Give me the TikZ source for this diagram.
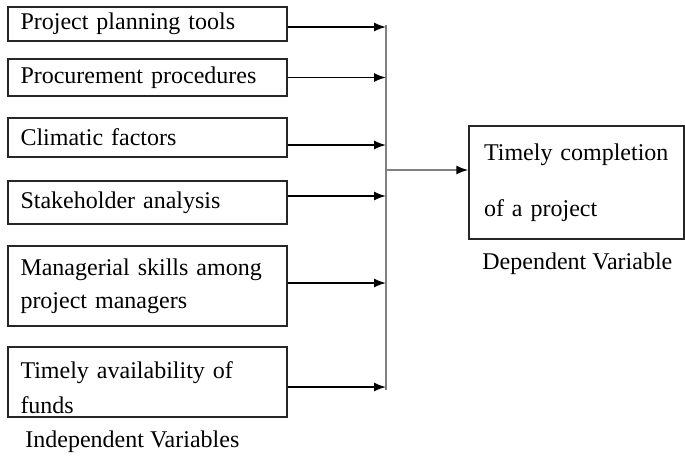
\documentclass[tikz,border=0pt]{standalone}
\usepackage{fontspec}
\setmainfont{Liberation Serif}
\usetikzlibrary{arrows.meta}

\begin{document}
\begin{tikzpicture}[x=0.5pt,y=-0.5pt,
		box/.style={draw=black!85, line width=0.75pt, text width=127pt, inner xsep=6.25pt, inner ysep=2pt, align=left, font=\fontsize{12}{14.5}\selectfont},
		lab/.style={anchor=west, inner sep=0pt, font=\fontsize{12}{14.5}\selectfont},
		arr/.style={line width=0.75pt, -{Latex[length=6pt,width=4.5pt,color=black]}},
		bar/.style={draw=black!50, line width=1pt}]
	\useasboundingbox (0,0) rectangle (685,457);
	\node[box, minimum height=17pt] (tools) at (147.5,24) {Project planning tools};
	\node[box, minimum height=18.5pt] (proc) at (147.5,77.5) {Procurement procedures};
	\node[box, minimum height=19.5pt] (clim) at (147.5,137.5) {Climatic factors};
	\node[box, minimum height=21.5pt] (stake) at (147.5,202.5) {Stakeholder analysis};
	\node[box, minimum height=40pt] (skills) at (147.5,286) {Managerial skills among\\[2pt]project managers};
	\node[box, minimum height=35pt, inner ysep=0pt] (funds) at (147.5,382) {\rule{0pt}{13.8pt}Timely availability of\\[3pt]funds};
	\node[box, text width=92.5pt, inner xsep=7.5pt, minimum height=56.5pt] (dep) at (576.5,182.5) {Timely completion\\[13.5pt]of a project};
	\node[lab] (indep) at (25,442) {Independent Variables};
	\node[lab] (depvar) at (482,264) {Dependent Variable};
	\coordinate (top) at (386,25);
	\coordinate (bot) at (386,390);
	\draw[bar] (top) -- (bot);
	\draw[arr] ([yshift=-1.5pt]tools.east) -- ([yshift=-1.5pt]tools.east -| top);
	\draw[arr] (proc.east) -- (proc.east -| top);
	\draw[arr] ([yshift=-3.75pt]clim.east) -- ([yshift=-3.75pt]clim.east -| top);
	\draw[arr] ([yshift=3.25pt]stake.east) -- ([yshift=3.25pt]stake.east -| top);
	\draw[arr] ([yshift=1.5pt]skills.east) -- ([yshift=1.5pt]skills.east -| top);
	\draw[arr] ([yshift=-2.5pt]funds.east) -- ([yshift=-2.5pt]funds.east -| top);
	\draw[arr, draw=black!50] ([yshift=6.25pt]dep.west -| top) -- ([yshift=6.25pt]dep.west);
\end{tikzpicture}
\end{document}
